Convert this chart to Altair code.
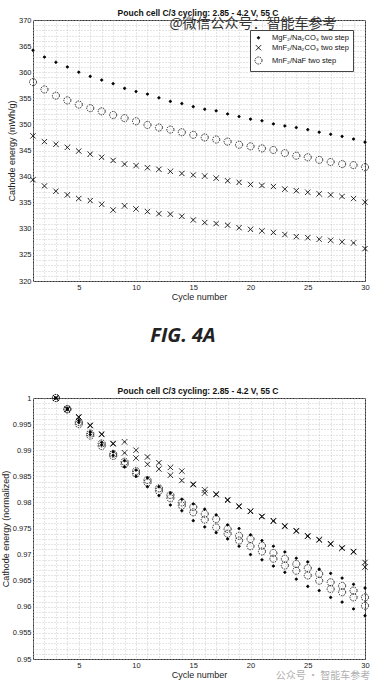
import altair as alt
import pandas as pd

# ---------------- data ----------------
G_MG = "MgF₂/Na₂CO₃ two step"
G_MN = "MnF₂/Na₂CO₃ two step"
G_NAF = "MnF₂/NaF two step"
groups = [G_MG, G_MN, G_NAF]

cycles_top = list(range(1, 31))
mg_top = [364.2, 362.9, 361.9, 361.0, 360.0, 359.2, 358.5, 357.8, 356.9, 356.3,
          355.8, 355.1, 354.4, 354.0, 353.4, 352.9, 352.6, 352.0, 351.5, 351.0,
          350.7, 350.1, 349.7, 349.4, 349.0, 348.5, 348.1, 347.7, 347.2, 346.6]
mn_top_cell1 = [347.8, 346.7, 346.2, 345.6, 344.9, 344.3, 343.7, 343.1, 342.4, 342.1,
                341.7, 341.4, 341.0, 340.6, 340.3, 340.1, 339.7, 339.2, 338.9, 338.5,
                338.3, 338.1, 337.6, 337.3, 337.0, 336.7, 336.5, 336.2, 335.8, 335.1]
mn_top_cell2 = [339.4, 338.2, 337.2, 336.5, 335.8, 335.4, 334.7, 333.6, 334.4, 333.8,
                333.3, 332.9, 332.8, 332.4, 331.7, 331.2, 331.0, 330.7, 330.2, 329.9,
                329.6, 329.3, 328.9, 328.5, 328.3, 328.0, 327.8, 327.5, 327.3, 326.2]
naf_top = [358.1, 356.7, 355.5, 354.6, 353.8, 353.1, 352.5, 351.8, 351.2, 350.6,
           349.9, 349.4, 349.0, 348.5, 348.0, 347.5, 347.1, 346.7, 346.1, 345.8,
           345.4, 345.1, 344.5, 344.0, 343.7, 343.2, 342.8, 342.4, 342.2, 341.8]

cycles_norm = list(range(3, 31))
mg_norm_cell1 = [1.0, 0.9980, 0.9957, 0.9935, 0.9915, 0.9897, 0.9880, 0.9862, 0.9847, 0.9830,
                 0.9818, 0.9806, 0.9797, 0.9787, 0.9776, 0.9757, 0.9750, 0.9738, 0.9727, 0.9716,
                 0.9705, 0.9693, 0.9686, 0.9672, 0.9664, 0.9655, 0.9643, 0.9636]
mg_norm_cell2 = [1.0, 0.9978, 0.9953, 0.9930, 0.9910, 0.9890, 0.9868, 0.9850, 0.9830, 0.9813,
                 0.9795, 0.9784, 0.9765, 0.9753, 0.9742, 0.9730, 0.9716, 0.9700, 0.9690, 0.9678,
                 0.9666, 0.9653, 0.9639, 0.9631, 0.9618, 0.9609, 0.9596, 0.9583]
mn_norm_cell1 = [1.0, 0.9979, 0.9964, 0.9948, 0.9931, 0.9913, 0.9916, 0.9900, 0.9887, 0.9876,
                 0.9867, 0.9860, 0.9835, 0.9824, 0.9816, 0.9805, 0.9793, 0.9783, 0.9773, 0.9765,
                 0.9755, 0.9746, 0.9736, 0.9729, 0.9720, 0.9713, 0.9706, 0.9685]
mn_norm_cell2 = [1.0, 0.9978, 0.9963, 0.9947, 0.9930, 0.9912, 0.9895, 0.9885, 0.9873, 0.9864,
                 0.9852, 0.9842, 0.9834, 0.9818, 0.9815, 0.9804, 0.9792, 0.9783, 0.9773, 0.9764,
                 0.9754, 0.9745, 0.9735, 0.9728, 0.9721, 0.9712, 0.9705, 0.9676]
naf_norm_cell1 = [1.0, 0.9979, 0.9954, 0.9932, 0.9913, 0.9893, 0.9878, 0.9860, 0.9843, 0.9827,
                  0.9814, 0.9800, 0.9791, 0.9778, 0.9768, 0.9749, 0.9736, 0.9730, 0.9717, 0.9703,
                  0.9692, 0.9682, 0.9674, 0.9663, 0.9647, 0.9640, 0.9631, 0.9618]
naf_norm_cell2 = [1.0, 0.9978, 0.9950, 0.9928, 0.9908, 0.9889, 0.9873, 0.9855, 0.9838, 0.9822,
                  0.9808, 0.9794, 0.9781, 0.9767, 0.9752, 0.9740, 0.9727, 0.9716, 0.9706, 0.9692,
                  0.9679, 0.9669, 0.9660, 0.9650, 0.9634, 0.9628, 0.9618, 0.9602]

title_text = ["Pouch cell C/3 cycling: 2.85 - 4.2 V, 55 C"]
x_title = "Cycle number"
y_title_top = "Cathode energy (mWh/g)"
y_title_norm = "Cathode energy (normalized)"
fig_label = ["FIG. 4A"]
watermark_top = ["@微信公众号：智能车参考"]
watermark_bottom = ["公众号 · 智能车参考"]

x_ticks = list(range(1, 31))
y_ticks_top = list(range(320, 371))
y_ticks_norm = [round(0.95 + i * 0.001, 3) for i in range(51)]


def long_df(cycles, series):
    rows = []
    for g, c, vals in series:
        for x, v in zip(cycles, vals):
            rows.append({"cycle": x, "value": v, "group": g, "cell": c})
    return pd.DataFrame(rows)


df_top = long_df(cycles_top, [
    (G_NAF, "a", naf_top),
    (G_MN, "a", mn_top_cell1),
    (G_MN, "b", mn_top_cell2),
    (G_MG, "a", mg_top),
])
df_norm = long_df(cycles_norm, [
    (G_NAF, "a", naf_norm_cell1),
    (G_NAF, "b", naf_norm_cell2),
    (G_MN, "a", mn_norm_cell1),
    (G_MN, "b", mn_norm_cell2),
    (G_MG, "a", mg_norm_cell1),
    (G_MG, "b", mg_norm_cell2),
])

X_PATH = "M-1,-1L1,1M-1,1L1,-1"
FONT = "Liberation Sans"
W, H = 332, 261


def text_layer(values, x, y, size, color, weight="normal", font=FONT, style="normal"):
    return alt.Chart(pd.DataFrame({"t": values})).mark_text(
        font=font, fontSize=size, color=color, fontWeight=weight, fontStyle=style,
        align="center", baseline="middle").encode(
        text="t:N", x=alt.value(x), y=alt.value(y))


def panel(df, ydomain, yvalues, ylabel_expr, ytitle, sizes, lx, ly, wm):
    legend = alt.Legend(
        title=None, orient="none", legendX=lx, legendY=ly,
        strokeColor="#444", fillColor="white", padding=4, rowPadding=1,
        labelFont=FONT, labelFontSize=7.5, labelColor="#111",
        symbolStrokeColor="black", symbolStrokeWidth=1, labelOffset=9,
    )
    pts = alt.Chart(df).mark_point(opacity=1, strokeWidth=1).encode(
        x=alt.X("cycle:Q", scale=alt.Scale(domain=[1, 30], nice=False, zero=False),
                axis=alt.Axis(values=x_ticks, labelExpr="datum.value % 5 == 0 ? datum.label : ''",
                              title=x_title)),
        y=alt.Y("value:Q", scale=alt.Scale(domain=ydomain, nice=False, zero=False),
                axis=alt.Axis(values=yvalues, labelExpr=ylabel_expr, title=ytitle)),
        shape=alt.Shape("group:N", scale=alt.Scale(domain=groups, range=["circle", X_PATH, "circle"]), legend=legend),
        size=alt.Size("group:N", scale=alt.Scale(domain=groups, range=sizes), legend=legend),
        fill=alt.Fill("group:N", scale=alt.Scale(domain=groups, range=["black", "transparent", "transparent"]), legend=legend),
        stroke=alt.Stroke("group:N", scale=alt.Scale(domain=groups, range=["black", "black", "#222"]), legend=legend),
        strokeDash=alt.StrokeDash("group:N", scale=alt.Scale(domain=groups, range=[[1, 0], [1, 0], [1.5, 1]]), legend=legend),
        detail="cell:N",
    )
    title = text_layer(title_text, W / 2 - 1, -7, 8.5, "#111", weight="bold")
    return alt.layer(pts, title, wm).properties(width=W, height=H)


top = panel(df_top, [320, 370], y_ticks_top,
            "datum.value % 5 == 0 ? datum.label : ''", y_title_top,
            [5, 50, 100], 217, 10,
            text_layer(watermark_top, 220, 4, 14, "#333", font="Noto Sans CJK SC"))
bottom = panel(df_norm, [0.95, 1.0], y_ticks_norm,
               "round(datum.value*1000) % 5 == 0 ? format(datum.value, '.3~f') : ''", y_title_norm,
               [5, 45, 70], 219, 7,
               text_layer(watermark_bottom, 290, 278, 10, "#b0b0b0", font="Noto Sans CJK SC"))

fig = text_layer(fig_label, 150, 23, 20, "#222", weight="bold", font="Open Sans", style="italic").properties(
    width=W, height=62, view=alt.ViewBackground(stroke="transparent"))

chart = alt.vconcat(
    top, fig, bottom, spacing=10,
    padding={"left": 0, "top": 8, "right": 5, "bottom": 2},
    background="white",
).configure_view(
    stroke="#333", strokeWidth=1
).configure_axis(
    grid=True, gridColor="#bdbdbd", gridDash=[1, 2], gridWidth=0.8,
    domain=False, ticks=False, labelPadding=2,
    labelFont=FONT, labelFontSize=7.5, labelColor="#222",
    titleFont=FONT, titleFontSize=9, titleFontWeight="normal", titleColor="#222",
    labelFlush=False, labelOverlap=False, titlePadding=2,
)

chart.save("out.html", embed_options={"renderer": "svg", "actions": False})
